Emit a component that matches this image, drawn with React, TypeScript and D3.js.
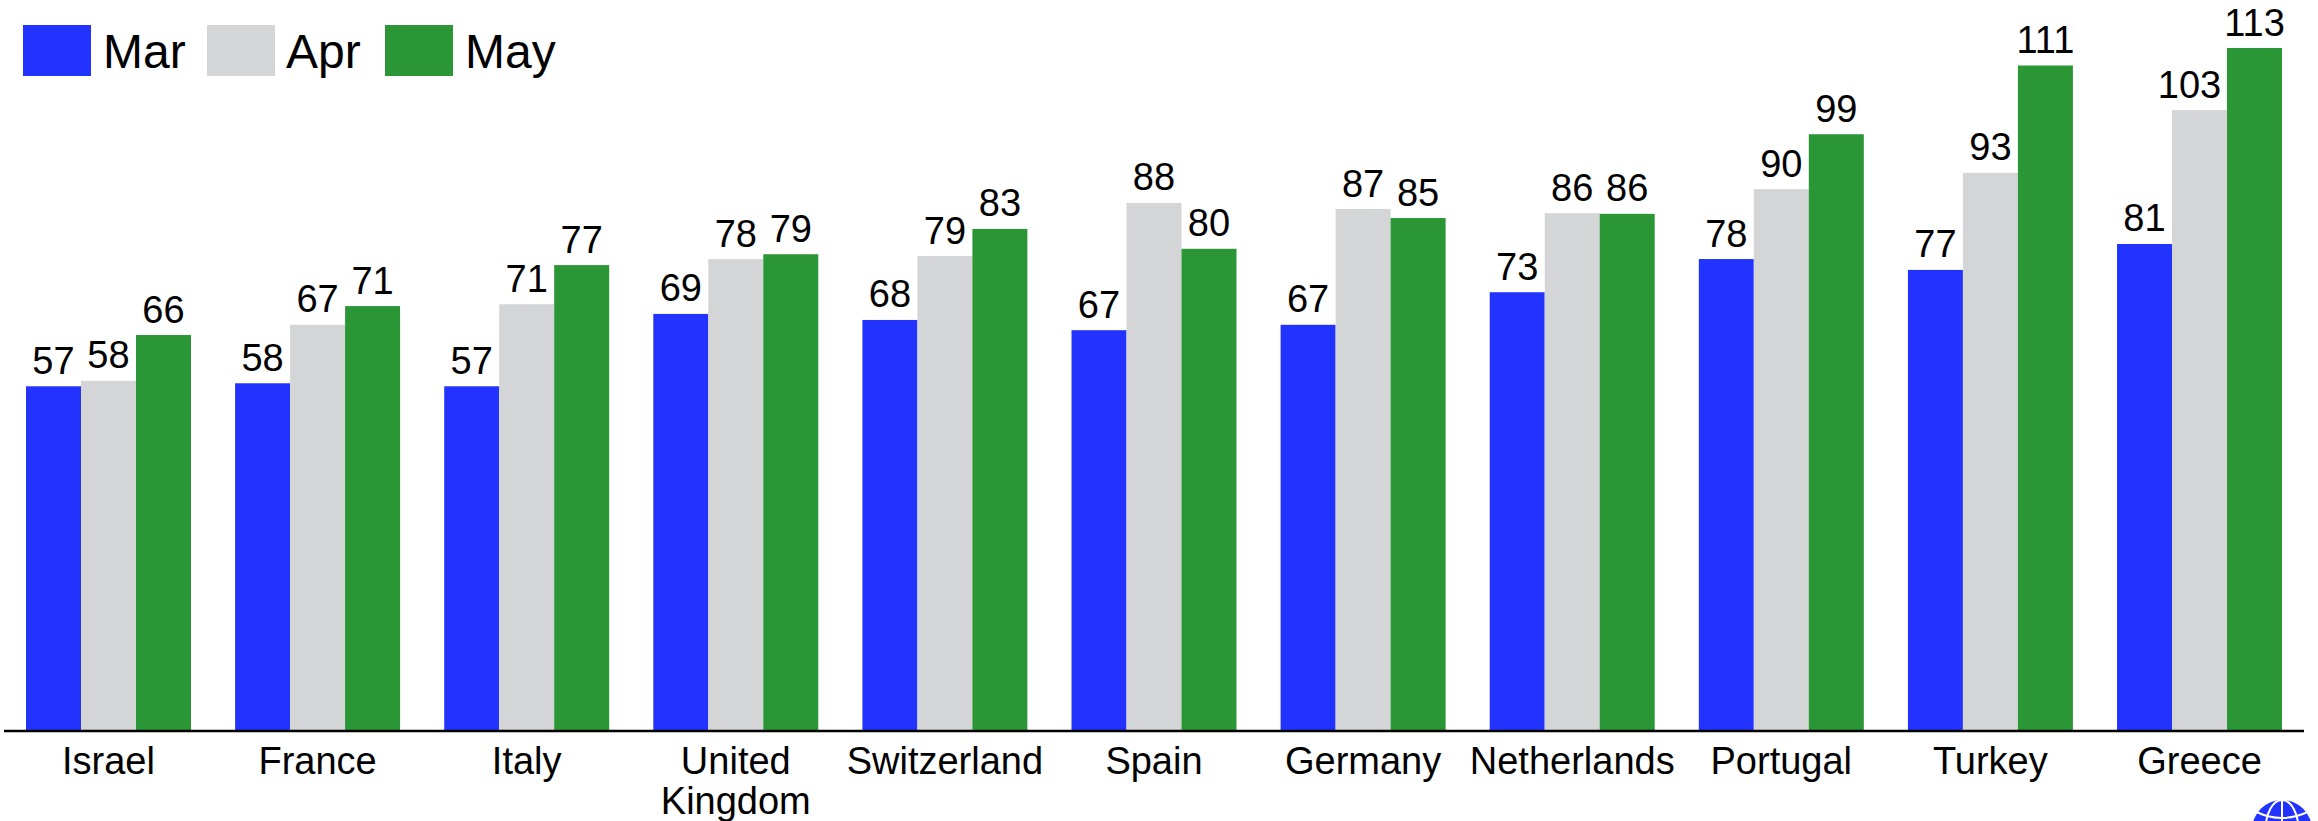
import React from "react";
import * as d3 from "d3";

const W = 2318, H = 821;
const countries = ["Israel","France","Italy","United Kingdom","Switzerland","Spain","Germany","Netherlands","Portugal","Turkey","Greece"];
const series = ["Mar","Apr","May"];
// bar heights
const mar = [57.0,57.5,57.0,69.0,68.0,66.3,67.2,72.6,78.1,76.3,80.6];
const apr = [57.9,67.2,70.6,78.1,78.6,87.4,86.4,85.7,89.7,92.4,102.8];
const may = [65.5,70.3,77.1,78.9,83.1,79.8,84.9,85.6,98.8,110.2,113.1];
// printed labels
const marLabels = [57,58,57,69,68,67,67,73,78,77,81];
const aprLabels = [58,67,71,78,79,88,87,86,90,93,103];
const mayLabels = [66,71,77,79,83,80,85,86,99,111,113];
const colors = ["#2233ff","#d4d5d7","#2a9635"];
const F = "'Liberation Sans'";

export default function App() {
  const x = d3.scaleBand().domain(countries).range([26, 2282]).paddingInner(0.211).paddingOuter(0).align(0);
  const y = d3.scaleLinear().domain([0,113.1]).range([730,48]);
  const vals = [mar,apr,may];
  const labels = [marLabels,aprLabels,mayLabels];
  const sub = d3.scaleBand().domain(series).range([0,x.bandwidth()]);
  const gx = 2282, gy = 830, gr = 30;
  return (
    <svg width={W} height={H} style={{position:"absolute",left:0,top:0,background:"#fff"}} fontFamily={F}>
      {countries.map((c,i)=>(
        <g key={c} transform={`translate(${x(c)},0)`}>
          {series.map((s,k)=>{
            // a three-digit label beside a taller bar is pushed left, clear of that bar
            const dodge = labels[k][i] >= 100 && k < 2 && vals[k + 1][i] > vals[k][i] ? -10 : 0;
            return (
              <g key={s}>
                <rect x={sub(s)} y={y(vals[k][i])} width={sub.bandwidth()} height={730-y(vals[k][i])} fill={colors[k]}/>
                <text x={sub(s)!+sub.bandwidth()/2+dodge} y={y(vals[k][i])-12.5} textAnchor="middle" fontSize={38}>{labels[k][i]}</text>
              </g>
            );
          })}
          {(c==="United Kingdom"?["United","Kingdom"]:[c]).map((l,j)=>(
            <text key={l} x={x.bandwidth()/2} y={774+j*40} textAnchor="middle" fontSize={38}>{l}</text>
          ))}
        </g>
      ))}
      <line x1={4} x2={2304} y1={731} y2={731} stroke="#000" strokeWidth={2.5}/>
      {series.map((s,k)=>{
        const lx=[23,207,385][k], tx=[103,286,465][k];
        return <g key={s}><rect x={lx} y={25} width={68} height={51} fill={colors[k]}/><text x={tx} y={68} fontSize={48}>{s}</text></g>;
      })}
      <g>
        <circle cx={gx} cy={gy} r={gr} fill="#2233ff"/>
        <ellipse cx={gx} cy={gy} rx={gr*0.55} ry={gr} fill="none" stroke="#fff" strokeWidth={2}/>
        <line x1={gx} x2={gx} y1={gy-gr} y2={gy} stroke="#fff" strokeWidth={2}/>
        <path d={`M${gx-gr*0.85},${gy-gr*0.6} Q${gx},${gy-gr*0.2} ${gx+gr*0.85},${gy-gr*0.6}`} fill="none" stroke="#fff" strokeWidth={2}/>
      </g>
    </svg>
  );
}
